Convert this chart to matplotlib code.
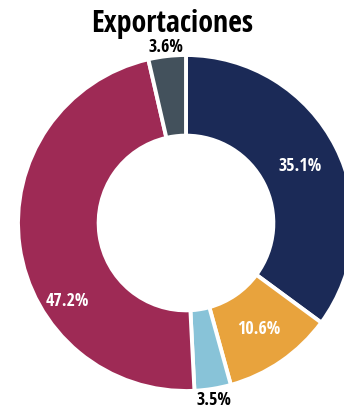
import matplotlib
matplotlib.use("Agg")
import matplotlib.pyplot as plt
import numpy as np

# Datos de exportaciones (%)
values = [35.1, 10.6, 3.5, 47.2, 3.6]
colors = ['#1b2a57', '#e8a33d', '#88c3d8', '#9e2a55', '#43515c']

plt.rcParams['font.family'] = ['Open Sans Condensed', 'DejaVu Sans']

fig = plt.figure(figsize=(3.44, 4.06), dpi=100)
ax = fig.add_axes([0, 0, 1, 1])

wedges, _ = ax.pie(values, colors=colors, startangle=90, counterclock=False,
                   radius=1.0, wedgeprops=dict(width=0.48, edgecolor='white', linewidth=2.8))

# etiquetas
for w, v in zip(wedges, values):
    mid = np.deg2rad((w.theta1 + w.theta2) / 2)
    if v < 5:
        r, col = 1.06, 'black'
    else:
        r, col = 0.76, 'white'
    if v > 40:
        mid += np.deg2rad(25)
        r = 0.84
    ax.text(r * np.cos(mid), r * np.sin(mid), f'{v}%', ha='center', va='center',
            color=col, fontsize=13, fontweight='bold')

scale = 168.0
ax.set_xlim(-186 / scale, (344 - 186) / scale)
ax.set_ylim(-(406 - 224) / scale, 224 / scale)
ax.set_aspect('auto')
ax.axis('off')

fig.text(0.5, 1 - 24 / 406, 'Exportaciones', ha='center', va='center',
         fontsize=21.5, fontweight='bold')

fig.savefig('out.png', dpi=100)
